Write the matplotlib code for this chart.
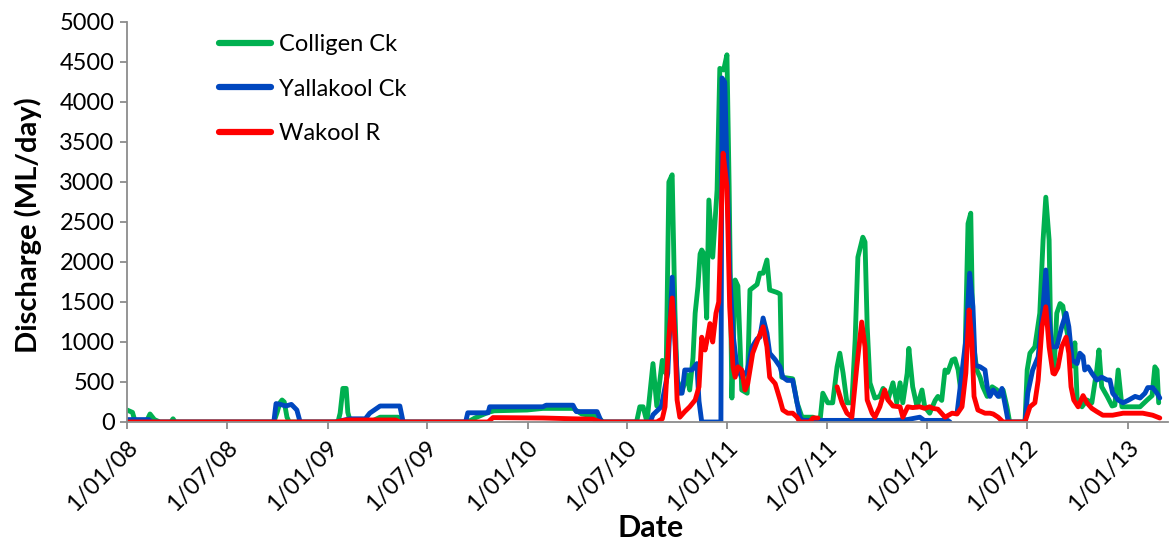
import numpy as np
import pandas as pd
import matplotlib
matplotlib.use("Agg")
import matplotlib.pyplot as plt
import matplotlib.transforms as mtransforms

plt.rcParams['font.family'] = ['Lato', 'DejaVu Sans']

START = pd.Timestamp('2008-01-01')
nan = np.nan

# (days since 1 Jan 2008, discharge ML/day)
colligen = [(0,150),(10,120),(15,0),(35,0),(42,100),(50,30),(60,0),(80,0),(84,40),(88,0),
    (268,0),(274,120),(279,240),(283,275),(287,250),(292,60),(296,0),(385,0),(389,110),(394,420),
    (400,420),(403,120),(407,20),(450,20),(462,60),(495,60),(500,0),(622,0),(635,50),(659,120),
    (670,140),(730,150),(759,170),(814,170),(830,100),(858,70),(869,0),(930,0),(936,190),(942,190),
    (949,0),(960,730),(967,200),(977,770),(984,600),(989,3000),(995,3090),(1000,1400),(1004,525),
    (1013,380),(1022,590),(1027,400),(1033,800),(1037,1360),(1042,1690),(1046,2100),(1049,2150),
    (1053,2100),(1058,1300),(1062,2775),(1069,2060),(1077,2900),(1082,4420),(1089,4400),(1095,4590),
    (1099,2940),(1104,300),(1110,1775),(1115,1700),(1122,400),(1132,360),(1137,1650),(1150,1720),
    (1155,1860),(1161,1860),(1168,2025),(1173,1650),(1186,1620),(1192,1600),(1195,560),(1215,540),
    (1223,240),(1232,60),(1252,60),(1265,20),(1270,360),(1279,240),(1288,240),(1296,690),(1301,860),
    (1307,610),(1314,240),(1323,240),(1329,1025),(1334,2060),(1343,2310),(1347,2250),(1351,1190),
    (1356,490),(1365,300),(1374,320),(1380,420),(1389,280),(1398,490),(1405,240),(1411,490),
    (1416,240),(1424,610),(1427,920),(1434,440),(1442,190),(1451,400),(1456,190),(1465,110),
    (1475,270),(1480,320),(1487,270),(1493,650),(1498,620),(1506,775),(1511,790),(1517,650),
    (1524,270),(1529,650),(1535,2480),(1540,2610),(1544,1025),(1551,650),(1557,560),(1562,440),
    (1570,320),(1579,440),(1588,400),(1593,320),(1599,400),(1606,190),(1611,0),(1639,0),(1643,650),
    (1648,860),(1657,940),(1666,1360),(1672,2275),(1677,2810),(1683,2275),(1686,1025),(1692,650),
    (1697,1360),(1703,1480),(1708,1450),(1714,1190),(1721,940),(1726,700),(1730,990),(1734,300),
    (1743,190),(1752,275),(1761,240),(1770,650),(1774,900),(1779,440),(1789,320),(1798,200),
    (1803,210),(1809,650),(1816,190),(1825,190),(1849,190),(1862,275),(1871,330),(1876,690),
    (1880,650),(1883,240)]

yallakool = [(0,30),(40,30),(45,0),(268,0),(272,230),(280,220),(290,200),(300,220),(310,150),
    (316,0),(380,0),(407,40),(435,40),(443,110),(462,200),(498,200),(504,0),(618,0),(622,115),
    (659,115),(662,190),(759,190),(765,210),(814,210),(820,130),(858,130),(866,0),(955,0),(960,90),
    (975,190),(987,610),(995,1810),(1000,1060),(1006,360),(1013,360),(1018,650),(1031,650),
    (1040,730),(1044,260),(1049,0),(1084,0),(1086,4300),(1091,4250),(1100,1860),(1106,1110),
    (1113,690),(1122,560),(1132,640),(1141,940),(1150,1040),(1155,1060),(1161,1300),(1168,1110),
    (1173,860),(1183,780),(1192,690),(1197,560),(1205,520),(1215,520),(1223,240),(1228,60),
    (1233,20),(1300,20),(1400,20),(1424,30),(1447,60),(1455,20),(1498,20),(1502,0),(1508,nan),
    (1515,110),(1531,1025),(1538,1860),(1544,1440),(1548,710),(1557,690),(1566,650),(1570,440),
    (1575,320),(1581,400),(1590,320),(1597,420),(1602,240),(1608,20),(1611,0),(1639,0),(1644,360),
    (1653,650),(1663,815),(1672,1440),(1677,1900),(1681,1440),(1688,940),(1697,940),(1706,1190),
    (1714,1360),(1719,1190),(1725,775),(1734,730),(1739,860),(1745,820),(1748,650),(1754,690),
    (1761,610),(1770,525),(1779,560),(1789,525),(1794,525),(1799,360),(1809,275),(1818,240),
    (1827,270),(1840,320),(1849,300),(1858,360),(1863,430),(1872,430),(1880,360),(1885,300)]

wakool = [(0,0),(380,0),(400,25),(490,25),(498,0),(659,0),(668,55),(759,50),(814,40),(850,35),
    (865,0),(967,0),(977,40),(982,190),(989,1060),(995,1550),(1000,1060),(1004,275),(1009,60),
    (1018,130),(1027,190),(1037,275),(1044,440),(1049,1060),(1055,900),(1058,1000),(1064,1230),
    (1069,1000),(1075,1360),(1080,1500),(1088,3360),(1095,2940),(1100,1440),(1106,690),(1110,560),
    (1115,690),(1122,650),(1128,400),(1133,480),(1142,860),(1151,1025),(1161,1190),(1168,940),
    (1173,560),(1183,480),(1192,275),(1197,150),(1206,110),(1215,110),(1223,60),(1228,0),(1246,0),
    (1252,50),(1261,50),(1278,nan),(1296,440),(1305,240),(1314,110),(1323,60),(1332,690),
    (1341,1250),(1347,940),(1351,275),(1360,110),(1365,60),(1374,190),(1383,400),(1389,275),
    (1398,200),(1411,190),(1416,60),(1425,190),(1434,180),(1447,190),(1456,170),(1465,190),
    (1471,170),(1480,160),(1493,60),(1506,110),(1515,100),(1524,190),(1531,610),(1537,1400),
    (1542,1025),(1546,320),(1553,150),(1566,110),(1575,110),(1581,100),(1590,60),(1599,0),(1639,0),
    (1648,190),(1657,240),(1663,520),(1670,1190),(1677,1440),(1683,940),(1690,610),(1693,600),
    (1699,680),(1706,940),(1714,1060),(1719,860),(1723,440),(1728,275),(1736,190),(1745,330),
    (1752,240),(1761,170),(1770,130),(1781,85),(1799,85),(1818,110),(1836,110),(1854,110),
    (1872,85),(1885,50)]

series_names = ['Colligen Ck', 'Yallakool Ck', 'Wakool R']
series_colors = ['#00B050', '#0047BF', '#FF0000']

tick_dates = ['2008-01-01', '2008-07-01', '2009-01-01', '2009-07-01', '2010-01-01', '2010-07-01',
              '2011-01-01', '2011-07-01', '2012-01-01', '2012-07-01', '2013-01-01']
tick_labels = ['1/01/08', '1/07/08', '1/01/09', '1/07/09', '1/01/10', '1/07/10',
               '1/01/11', '1/07/11', '1/01/12', '1/07/12', '1/01/13']
y_ticks = [0, 500, 1000, 1500, 2000, 2500, 3000, 3500, 4000, 4500, 5000]


def to_xy(pairs):
    d = np.array([p[0] for p in pairs], dtype=float)
    v = np.array([p[1] for p in pairs], dtype=float)
    dates = START + pd.to_timedelta(d, unit='D')
    return dates, v


fig = plt.figure(figsize=(11.72, 5.40), dpi=100)
W, H = 1172, 540
ax = fig.add_axes([127 / W, 1 - 422 / H, (1168 - 127) / W, (422 - 22) / H])

for data, name, col in zip([colligen, yallakool, wakool], series_names, series_colors):
    x, y = to_xy(data)
    ax.plot(x, y, color=col, lw=3.5, label=name, solid_joinstyle='round', solid_capstyle='round')

ax.set_ylim(0, 5000)
ax.set_xlim(START, START + pd.Timedelta(days=1900))
ax.set_yticks(y_ticks)
ax.set_yticklabels([str(t) for t in y_ticks])
ax.set_xticks(pd.to_datetime(tick_dates))
ax.set_xticklabels(tick_labels)

for s in ['top', 'right']:
    ax.spines[s].set_visible(False)
for s in ['left', 'bottom']:
    ax.spines[s].set_color('#8C8C8C')
    ax.spines[s].set_linewidth(1.3)

ax.tick_params(axis='both', colors='#8C8C8C', length=5, width=1.3, direction='out',
               labelcolor='black', labelsize=17)
ax.tick_params(axis='y', pad=4)
ax.tick_params(axis='x', pad=11)
shift = mtransforms.ScaledTranslation(7 / 100, 0, fig.dpi_scale_trans)
for lab in ax.get_xticklabels():
    lab.set_rotation(45)
    lab.set_ha('right')
    lab.set_va('center')
    lab.set_rotation_mode('anchor')
    lab.set_transform(lab.get_transform() + shift)

fig.text(28 / W, 1 - 225 / H, 'Discharge (ML/day)', rotation=90, ha='center', va='center',
         fontsize=21, fontweight='bold')
fig.text(651 / W, 1 - 528 / H, 'Date', ha='center', va='center', fontsize=22, fontweight='bold')

leg = ax.legend(loc='upper left', bbox_to_anchor=(219 / W, 1 - 34 / H),
                bbox_transform=fig.transFigure, frameon=False, fontsize=17,
                handlelength=2.2, handletextpad=0.35, labelspacing=1.0, borderpad=0,
                borderaxespad=0)
for line in leg.get_lines():
    line.set_linewidth(4.5)

fig.savefig('out.png', dpi=100)
